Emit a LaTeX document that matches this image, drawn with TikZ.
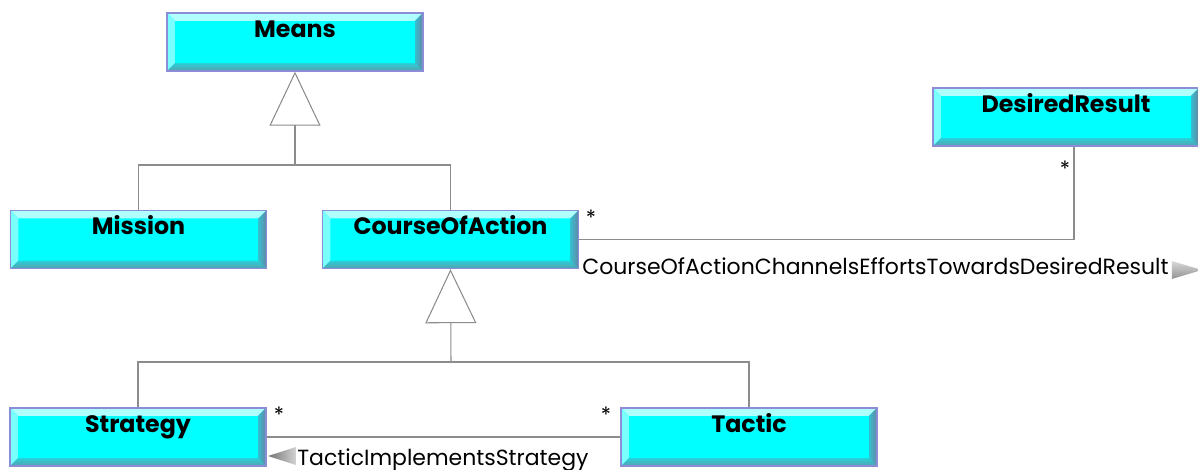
\documentclass[tikz,border=0pt]{standalone}
\usepackage{fontspec}
\setmainfont{Poppins}
\usetikzlibrary{arrows.meta,calc,positioning}

\definecolor{classfill}{RGB}{0,255,255}
\definecolor{classedge}{RGB}{140,140,215}
\definecolor{bevellight}{RGB}{175,255,255}
\definecolor{beveldark}{RGB}{85,160,175}
\definecolor{bevelside}{RGB}{100,135,165}
\definecolor{linkgray}{RGB}{140,140,140}

\newcommand{\bevelbox}{%
    \coordinate (bnw) at (path picture bounding box.north west);
    \coordinate (bne) at (path picture bounding box.north east);
    \coordinate (bsw) at (path picture bounding box.south west);
    \coordinate (bse) at (path picture bounding box.south east);
    \fill[bevellight] (bnw) -- (bne) -- ++(-4.5pt,-4.5pt) -- ($(bnw)+(4.5pt,-4.5pt)$) -- cycle;
    \fill[bevellight!70!classfill] (bnw) -- (bsw) -- ++(4.5pt,4.5pt) -- ($(bnw)+(4.5pt,-4.5pt)$) -- cycle;
    \shade[top color=beveldark!50!classfill, bottom color=beveldark] (bsw) -- (bse) -- ++(-4.5pt,4.5pt) -- ($(bsw)+(4.5pt,4.5pt)$) -- cycle;
    \shade[left color=bevelside!55!classfill, right color=bevelside] (bne) -- (bse) -- ++(-4.5pt,4.5pt) -- ($(bne)+(-4.5pt,-4.5pt)$) -- cycle;
}

\tikzset{
    umlclass/.style={rectangle, fill=classfill, draw=classedge, line width=0.8pt,
        minimum width=5.12cm, inner sep=0pt, text height=0.48cm, text depth=0.68cm,
        font=\fontsize{13.5}{14}\selectfont\bfseries, path picture={\bevelbox}},
    link/.style={draw=linkgray, line width=0.6pt},
    mult/.style={inner sep=0pt, font=\fontsize{12}{12}\selectfont},
    linklabel/.style={inner sep=0pt, font=\fontsize{12.5}{13}\selectfont},
    gentip/.style={-{Triangle[open, fill=white, length=1.08cm, width=1.02cm]}}
}

\begin{document}
\begin{tikzpicture}[x=0.02cm, y=-0.02cm]
    \useasboundingbox (0,0) rectangle (1198,470);

    \node[umlclass] (means) at (295,42) {Means};

    \node[umlclass] (mission) at (138.5,239.5) {Mission};

    \node[umlclass] (coa) at (450.5,239.5) {CourseOfAction};

    \node[umlclass, minimum width=5.32cm] (desired) at (1066,117) {DesiredResult};

    \node[umlclass] (strategy) at (138,437) {Strategy};

    \node[umlclass] (tactic) at (749,437) {Tactic};

    % generalisations
    \coordinate (meansfork) at (295,165);
    \coordinate (coafork) at (451,362);

    \draw[link] (mission.north) |- (meansfork) -| (coa.north);
    \draw[link, gentip] (meansfork) -- (means.south);

    \draw[link] (strategy.north) |- (coafork) -| (tactic.north);
    \draw[link, gentip] (coafork) -- (coa.south);

    % associations
    \draw[link] (coa.east) -| ($(desired.south)+(8,0)$);
    \node[mult] (coastar) at (591,218) {*};
    \node[mult] (desiredstar) at (1065,169) {*};
    \node[linklabel, anchor=base west] (channels) at (582,274) {CourseOfActionChannelsEffortsTowardsDesiredResult};
    \shade[top color=gray!30, bottom color=gray!85] ($(channels.base east)+(3,-13)$) -- ++(30,9) -- ++(-30,9) -- cycle;

    \draw[link] (strategy.east) -- (tactic.west);
    \node[mult] (strategystar) at (279,415) {*};
    \node[mult] (tacticstar) at (606,415) {*};
    \node[linklabel, anchor=base west] (implements) at (297,465) {TacticImplementsStrategy};
    \shade[left color=gray!90!black, right color=gray!35] ($(implements.base west)+(-1,-18)$) -- ++(-28,9) -- ++(28,9) -- cycle;
\end{tikzpicture}
\end{document}
